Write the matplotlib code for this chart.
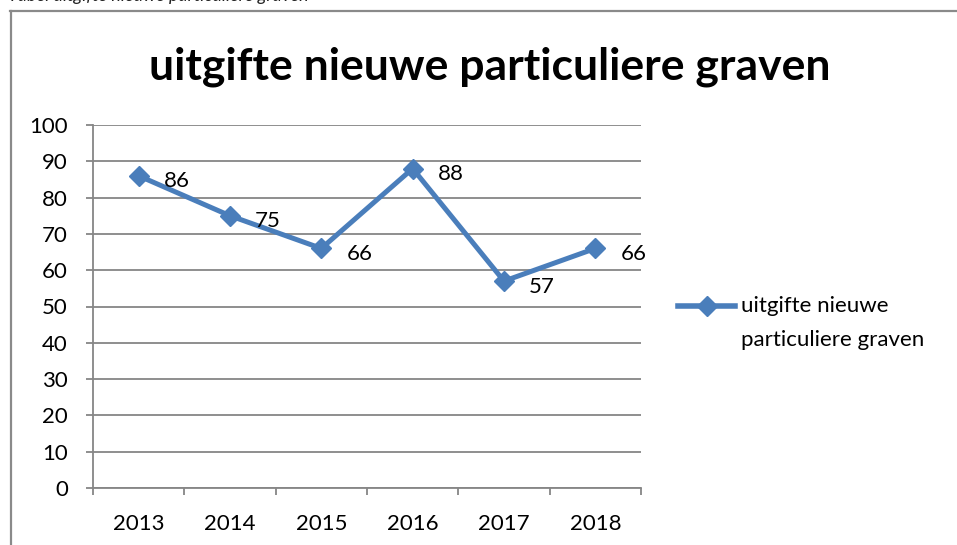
import numpy as np
import matplotlib.pyplot as plt
from matplotlib.lines import Line2D

years = ['2013', '2014', '2015', '2016', '2017', '2018']
values = [86, 75, 66, 88, 57, 66]
series_name = 'uitgifte nieuwe particuliere graven'

blue = '#4A7EBB'
grey = '#868686'
plt.rcParams['font.family'] = ['Lato', 'DejaVu Sans']

W, H = 957, 545
fig = plt.figure(figsize=(W/100, H/100), dpi=100)

# outer chart frame (partly cut off on right/bottom)
fig.add_artist(Line2D([10.5/W, 10.5/W], [0, 1-11/H], color='#8a8a8a', lw=1.6))
fig.add_artist(Line2D([10/W, 1], [1-11/H, 1-11/H], color='#8a8a8a', lw=1.6))

# caption above the chart, cut off at the top like in the source
fig.text(8/W, 1-1.5/H, 'Tabel uitgifte nieuwe particuliere graven', fontsize=13,
         style='italic', va='baseline', ha='left', color='#222222')

ax = fig.add_axes([93/W, 57/H, 548/W, 363/H])
x = np.arange(len(years))
ax.plot(x, values, color=blue, lw=3.6, marker='D', markersize=10,
        markerfacecolor=blue, markeredgecolor=blue)

for xi, v in zip(x, values):
    ax.annotate(str(v), (xi, v), xytext=(18, -4), textcoords='offset points',
                fontsize=16, va='center', ha='left', color='black')

ax.set_xlim(-0.5, 5.5)
ax.set_ylim(0, 100)
ax.set_yticks(range(0, 101, 10))
ax.grid(axis='y', color=grey, lw=1.3)
ax.set_axisbelow(True)
for s in ['top', 'right']:
    ax.spines[s].set_visible(False)
for s in ['left', 'bottom']:
    ax.spines[s].set_color(grey)
    ax.spines[s].set_linewidth(1.3)

ax.set_xticks(x)
ax.set_xticklabels(years)
ax.set_xticks(np.arange(-0.5, 6, 1), minor=True)
ax.tick_params(axis='x', which='major', length=0, pad=19, labelsize=16)
ax.tick_params(axis='x', which='minor', length=5, width=1.3, color=grey, direction='out')
ax.tick_params(axis='y', length=5, width=1.3, color=grey, pad=13, labelsize=16)

fig.text(490/W, 1-67/H, series_name, fontsize=32,
         fontweight='bold', ha='center', va='center')

# legend
fig.add_artist(Line2D([678/W, 735/W], [1-306/H, 1-306/H], color=blue, lw=4))
fig.add_artist(Line2D([706.5/W], [1-306/H], color=blue, marker='D', markersize=10,
                      linestyle='none'))
fig.text(741/W, 1-306/H, 'uitgifte nieuwe', fontsize=16, va='center', ha='left')
fig.text(741/W, 1-340/H, 'particuliere graven', fontsize=16, va='center', ha='left')

fig.savefig('out.png', dpi=100)
